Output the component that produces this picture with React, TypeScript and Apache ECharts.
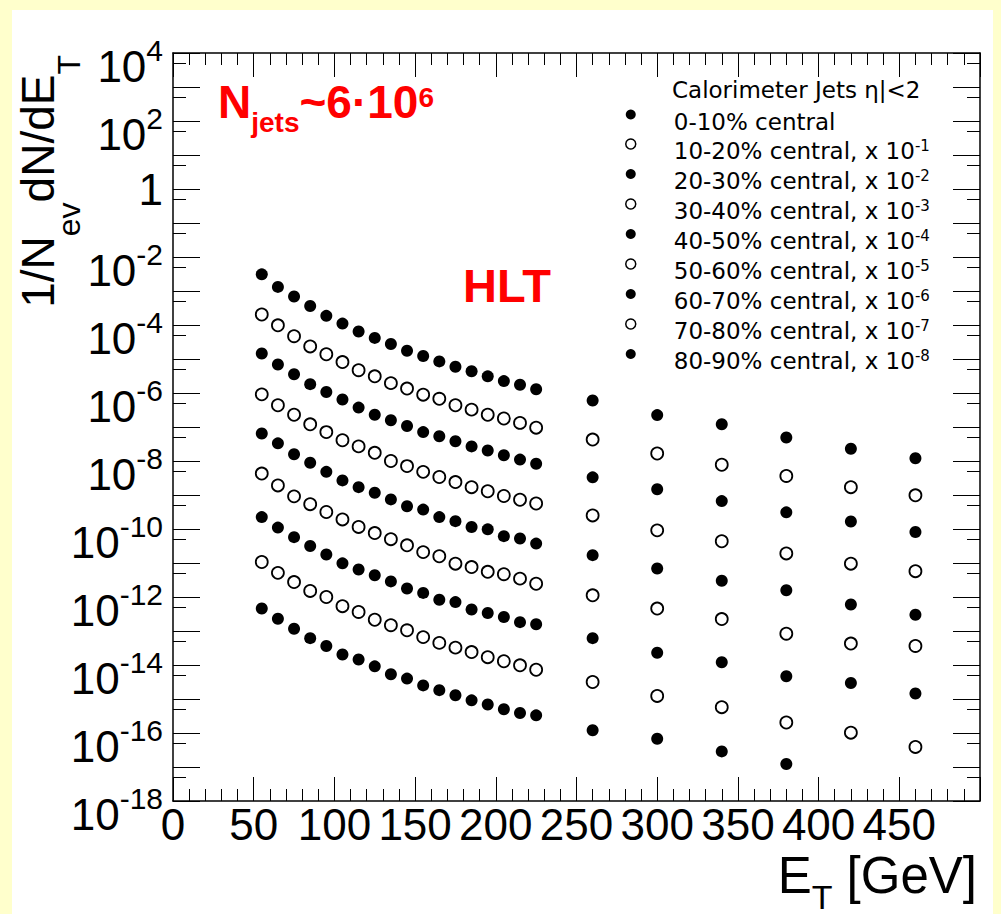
import React, { useEffect, useRef } from "react";
import * as echarts from "echarts";

// E_T bin centres [GeV]
const etBins = [55, 65, 75, 85, 95, 105, 115, 125, 135, 145, 155, 165, 175, 185, 195, 205, 215, 225, 260, 300, 340, 380, 420, 460];

// 1/N_ev dN/dE_T per centrality class (already scaled as in legend)
const c0_10 = [3.09e-3, 1.32e-3, 6.92e-4, 3.63e-4, 1.86e-4, 1.10e-4, 6.46e-5, 4.17e-5, 2.75e-5, 1.74e-5, 1.23e-5, 8.51e-6, 5.89e-6, 4.37e-6, 3.09e-6, 2.24e-6, 1.74e-6, 1.29e-6, 6.03e-7, 2.24e-7, 1.20e-7, 4.90e-8, 2.29e-8, 1.20e-8];
const c10_20 = [2.04e-4, 9.77e-5, 4.68e-5, 2.34e-5, 1.38e-5, 8.13e-6, 4.68e-6, 3.09e-6, 1.95e-6, 1.35e-6, 8.91e-7, 6.76e-7, 4.37e-7, 3.24e-7, 2.29e-7, 1.78e-7, 1.32e-7, 9.55e-8, 4.27e-8, 1.66e-8, 7.76e-9, 3.63e-9, 1.70e-9, 9.77e-10];
const c20_30 = [1.45e-5, 6.92e-6, 3.55e-6, 1.82e-6, 1.07e-6, 6.46e-7, 3.72e-7, 2.29e-7, 1.58e-7, 1.07e-7, 7.08e-8, 5.37e-8, 3.80e-8, 2.69e-8, 2.04e-8, 1.48e-8, 1.10e-8, 8.32e-9, 3.31e-9, 1.48e-9, 6.61e-10, 3.09e-10, 1.66e-10, 8.13e-11];
const c30_40 = [9.12e-7, 4.37e-7, 2.29e-7, 1.20e-7, 7.08e-8, 4.07e-8, 2.69e-8, 1.74e-8, 1.00e-8, 7.08e-9, 4.79e-9, 3.39e-9, 2.40e-9, 1.70e-9, 1.29e-9, 9.33e-10, 7.24e-10, 5.62e-10, 2.51e-10, 9.12e-11, 4.37e-11, 1.91e-11, 9.55e-12, 5.75e-12];
const c40_50 = [6.46e-8, 3.31e-8, 1.58e-8, 8.91e-9, 4.79e-9, 2.69e-9, 1.70e-9, 1.17e-9, 7.41e-10, 4.68e-10, 3.72e-10, 2.24e-10, 1.70e-10, 1.15e-10, 9.77e-11, 6.17e-11, 5.25e-11, 3.72e-11, 1.70e-11, 6.92e-12, 3.02e-12, 1.58e-12, 6.03e-13, 3.02e-13];
const c50_60 = [4.27e-9, 1.91e-9, 9.12e-10, 5.37e-10, 3.16e-10, 1.91e-10, 1.15e-10, 7.59e-11, 5.01e-11, 3.31e-11, 2.09e-11, 1.58e-11, 9.55e-12, 7.59e-12, 5.50e-12, 4.68e-12, 3.47e-12, 2.45e-12, 1.12e-12, 4.57e-13, 2.24e-13, 8.32e-14, 4.27e-14, 3.63e-14];
const c60_70 = [2.24e-10, 1.10e-10, 5.75e-11, 3.16e-11, 1.78e-11, 9.77e-12, 6.46e-12, 4.37e-12, 2.88e-12, 1.78e-12, 1.32e-12, 8.32e-13, 7.08e-13, 4.27e-13, 3.39e-13, 2.57e-13, 1.82e-13, 1.58e-13, 6.17e-14, 2.29e-14, 1.20e-14, 4.68e-15, 2.95e-15, 1.45e-15];
const c70_80 = [1.07e-11, 5.13e-12, 2.75e-12, 1.51e-12, 1.00e-12, 5.37e-13, 3.63e-13, 2.14e-13, 1.48e-13, 1.05e-13, 6.61e-14, 4.47e-14, 3.24e-14, 2.40e-14, 1.70e-14, 1.29e-14, 9.77e-15, 7.24e-15, 3.16e-15, 1.23e-15, 5.75e-16, 2.04e-16, 1.02e-16, 3.89e-17];
const c80_90 = [4.57e-13, 2.29e-13, 1.17e-13, 6.17e-14, 3.63e-14, 2.04e-14, 1.45e-14, 9.12e-15, 5.37e-15, 3.98e-15, 2.51e-15, 1.82e-15, 1.29e-15, 9.12e-16, 6.92e-16, 5.01e-16, 3.89e-16, 3.31e-16, 1.20e-16, 6.76e-17, 2.88e-17, 1.23e-17, null, null];

const classValues = [c0_10, c10_20, c20_30, c30_40, c40_50, c50_60, c60_70, c70_80, c80_90];
const classLabels = ["0-10% central", "10-20% central, x 10", "20-30% central, x 10", "30-40% central, x 10", "40-50% central, x 10", "50-60% central, x 10", "60-70% central, x 10", "70-80% central, x 10", "80-90% central, x 10"];
const classScalePow = ["", "-1", "-2", "-3", "-4", "-5", "-6", "-7", "-8"];
const classFilled = [true, false, true, false, true, false, true, false, true];

const legendHeader = "Calorimeter Jets \u03b7|<2";
const yMinorTickExps = [-17.3, -16.3, -15.3, -14.3, -13.3, -12.3, -11.3, -10.3, -9.3, -8.3, -7.3, -6.3, -5.3, -4.3, -3.3, -2.3, -1.3, -0.3, 0.7, 1.7, 2.7, 3.7];

const FONT = "'Liberation Sans', Arial, Helvetica, sans-serif";
const LFONT = "'DejaVu Sans', sans-serif";

export default function App() {
  const ref = useRef<HTMLDivElement>(null);
  useEffect(() => {
    const chart = echarts.init(ref.current as HTMLDivElement, null, { renderer: "svg" });
    const names = classLabels.map((b, i) => (classScalePow[i] ? `${b}^${classScalePow[i]}` : b));

    const series = classValues.map((vals, i) => ({
      name: names[i],
      type: "scatter",
      xAxisIndex: 0,
      yAxisIndex: 0,
      symbol: "circle",
      symbolSize: 12,
      itemStyle: classFilled[i]
        ? { color: "#000", opacity: 1 }
        : { color: "#fff", borderColor: "#000", borderWidth: 1.8, opacity: 1 },
      emphasis: { disabled: true },
      data: etBins
        .map((x, j) => (vals[j] == null ? null : [x, vals[j]]))
        .filter((d) => d !== null),
    }));

    const xAxisBase = {
      type: "value",
      min: 0,
      max: 500,
      interval: 50,
      gridIndex: 0,
      axisLine: { show: true, onZero: false, lineStyle: { color: "#000", width: 1.5 } },
      axisTick: { show: true, inside: true, length: 24, lineStyle: { color: "#000", width: 1 } },
      minorTick: { show: true, splitNumber: 5, length: 12, lineStyle: { color: "#000", width: 1 } },
      splitLine: { show: false },
      minorSplitLine: { show: false },
    };
    const yLogBase = {
      type: "log",
      logBase: 10,
      min: 1e-18,
      max: 1e4,
      interval: 1,
      gridIndex: 0,
      axisLine: { show: true, onZero: false, lineStyle: { color: "#000", width: 1.5 } },
      axisTick: { show: true, inside: true, length: 27, lineStyle: { color: "#000", width: 1 } },
      splitLine: { show: false },
    };
    const yMinorBase = {
      type: "value",
      min: -18,
      max: 4,
      gridIndex: 0,
      axisLine: { show: false, onZero: false },
      axisLabel: { show: false },
      axisTick: { show: true, inside: true, length: 13, customValues: yMinorTickExps, lineStyle: { color: "#000", width: 1 } },
      splitLine: { show: false },
    };

    chart.setOption({
      animation: false,
      backgroundColor: "transparent",
      grid: { left: 173, top: 53, width: 807, height: 748, containLabel: false, outerBoundsMode: "none" },
      xAxis: [
        {
          ...xAxisBase,
          position: "bottom",
          axisLabel: {
            show: true,
            margin: 5,
            color: "#000",
            fontFamily: FONT,
            fontSize: 44,
            lineHeight: 36,
            formatter: (v: number) => (v >= 500 ? "" : String(v)),
          },
        },
        { ...xAxisBase, position: "top", axisLabel: { show: false } },
      ],
      yAxis: [
        {
          ...yLogBase,
          position: "left",
          axisLabel: {
            show: true,
            margin: 10,
            color: "#000",
            fontFamily: FONT,
            formatter: (v: number) => {
              const e = Math.round(Math.log10(v));
              if (e % 2 !== 0) return "";
              if (e === 0) return "{one|1}";
              return `{b|10}{s|${e}}`;
            },
            rich: {
              b: { fontSize: 44, lineHeight: 44, padding: [26, 0, 0, 0], fontFamily: FONT, color: "#000" },
              s: { fontSize: 30, lineHeight: 30, padding: [17, 0, 23, 0], fontFamily: FONT, color: "#000" },
              one: { fontSize: 44, lineHeight: 44, fontFamily: FONT, color: "#000" },
            },
          },
        },
        { ...yLogBase, position: "right", axisLabel: { show: false } },
        { ...yMinorBase, position: "left" },
        { ...yMinorBase, position: "right" },
      ],
      legend: {
        orient: "vertical",
        left: 625,
        top: 96,
        padding: 0,
        itemGap: -8,
        itemWidth: 10,
        itemHeight: 10,
        selectedMode: false,
        data: names.map((n, i) => ({
          name: n,
          icon: "circle",
          itemStyle: classFilled[i]
            ? { color: "#000", borderWidth: 0, opacity: 1 }
            : { color: "#fff", borderColor: "#000", borderWidth: 1.5, opacity: 1 },
        })),
        formatter: (name: string) => {
          const i = names.indexOf(name);
          return classScalePow[i]
            ? `{t|${classLabels[i]}}{s|${classScalePow[i]}}`
            : `{t|${classLabels[i]}}`;
        },
        textStyle: {
          fontFamily: LFONT,
          fontSize: 23,
          color: "#000",
          rich: {
            t: { fontFamily: LFONT, fontSize: 23, lineHeight: 24, padding: [14, 0, 0, 33], color: "#000" },
            s: { fontFamily: LFONT, fontSize: 15, lineHeight: 15, padding: [13, 0, 10, 0], color: "#000" },
          },
        },
      },
      graphic: [
        { type: "rect", z: -10, silent: true, shape: { x: 12, y: 10, width: 981, height: 904 }, style: { fill: "#fff" } },
        {
          type: "text",
          x: 672,
          y: 90,
          style: { text: legendHeader, fontFamily: LFONT, fontSize: 23, fill: "#000", align: "left", verticalAlign: "middle" },
        },
        {
          type: "text",
          x: 27,
          y: 55,
          rotation: Math.PI / 2,
          style: {
            text: "{b|1/N}{s|ev}{b|dN/dE}{s|T}",
            align: "right",
            verticalAlign: "top",
            rich: {
              b: { fontSize: 46, lineHeight: 46, padding: [0, 0, 24, 0], fontFamily: FONT, fill: "#000", color: "#000" },
              s: { fontSize: 32, lineHeight: 32, padding: [38, 0, 0, 0], fontFamily: FONT, fill: "#000", color: "#000" },
            },
          },
        },
        {
          type: "text",
          x: 977,
          y: 856,
          style: {
            text: "{b|E}{s|T}{b| [GeV]}",
            align: "right",
            verticalAlign: "top",
            rich: {
              b: { fontSize: 51, lineHeight: 51, padding: [0, 0, 13, 0], fontFamily: FONT, fill: "#000", color: "#000" },
              s: { fontSize: 34, lineHeight: 34, padding: [30, 0, 0, 0], fontFamily: FONT, fill: "#000", color: "#000" },
            },
          },
        },
        {
          type: "text",
          x: 218,
          y: 80,
          style: {
            text: "{n|N}{j|jets}{n|~6\u00b710}{e|6}",
            align: "left",
            verticalAlign: "top",
            rich: {
              n: { fontSize: 46, fontWeight: "bold", lineHeight: 46, padding: [9, 0, 12, 0], fontFamily: FONT, fill: "#ff0000", color: "#ff0000" },
              j: { fontSize: 28, fontWeight: "bold", lineHeight: 28, padding: [39, 0, 0, 0], fontFamily: FONT, fill: "#ff0000", color: "#ff0000" },
              e: { fontSize: 28, fontWeight: "bold", lineHeight: 28, padding: [14, 0, 25, 0], fontFamily: FONT, fill: "#ff0000", color: "#ff0000" },
            },
          },
        },
        {
          type: "text",
          x: 463,
          y: 285,
          style: { text: "HLT", fontFamily: FONT, fontSize: 47, fontWeight: "bold", fill: "#ff0000", align: "left", verticalAlign: "middle" },
        },
      ],
      series,
    });
    return () => chart.dispose();
  }, []);
  return (
    <div
      ref={ref}
      style={{ position: "fixed", left: 0, top: 0, width: 1001, height: 914, background: "#ffffcc" }}
    />
  );
}
